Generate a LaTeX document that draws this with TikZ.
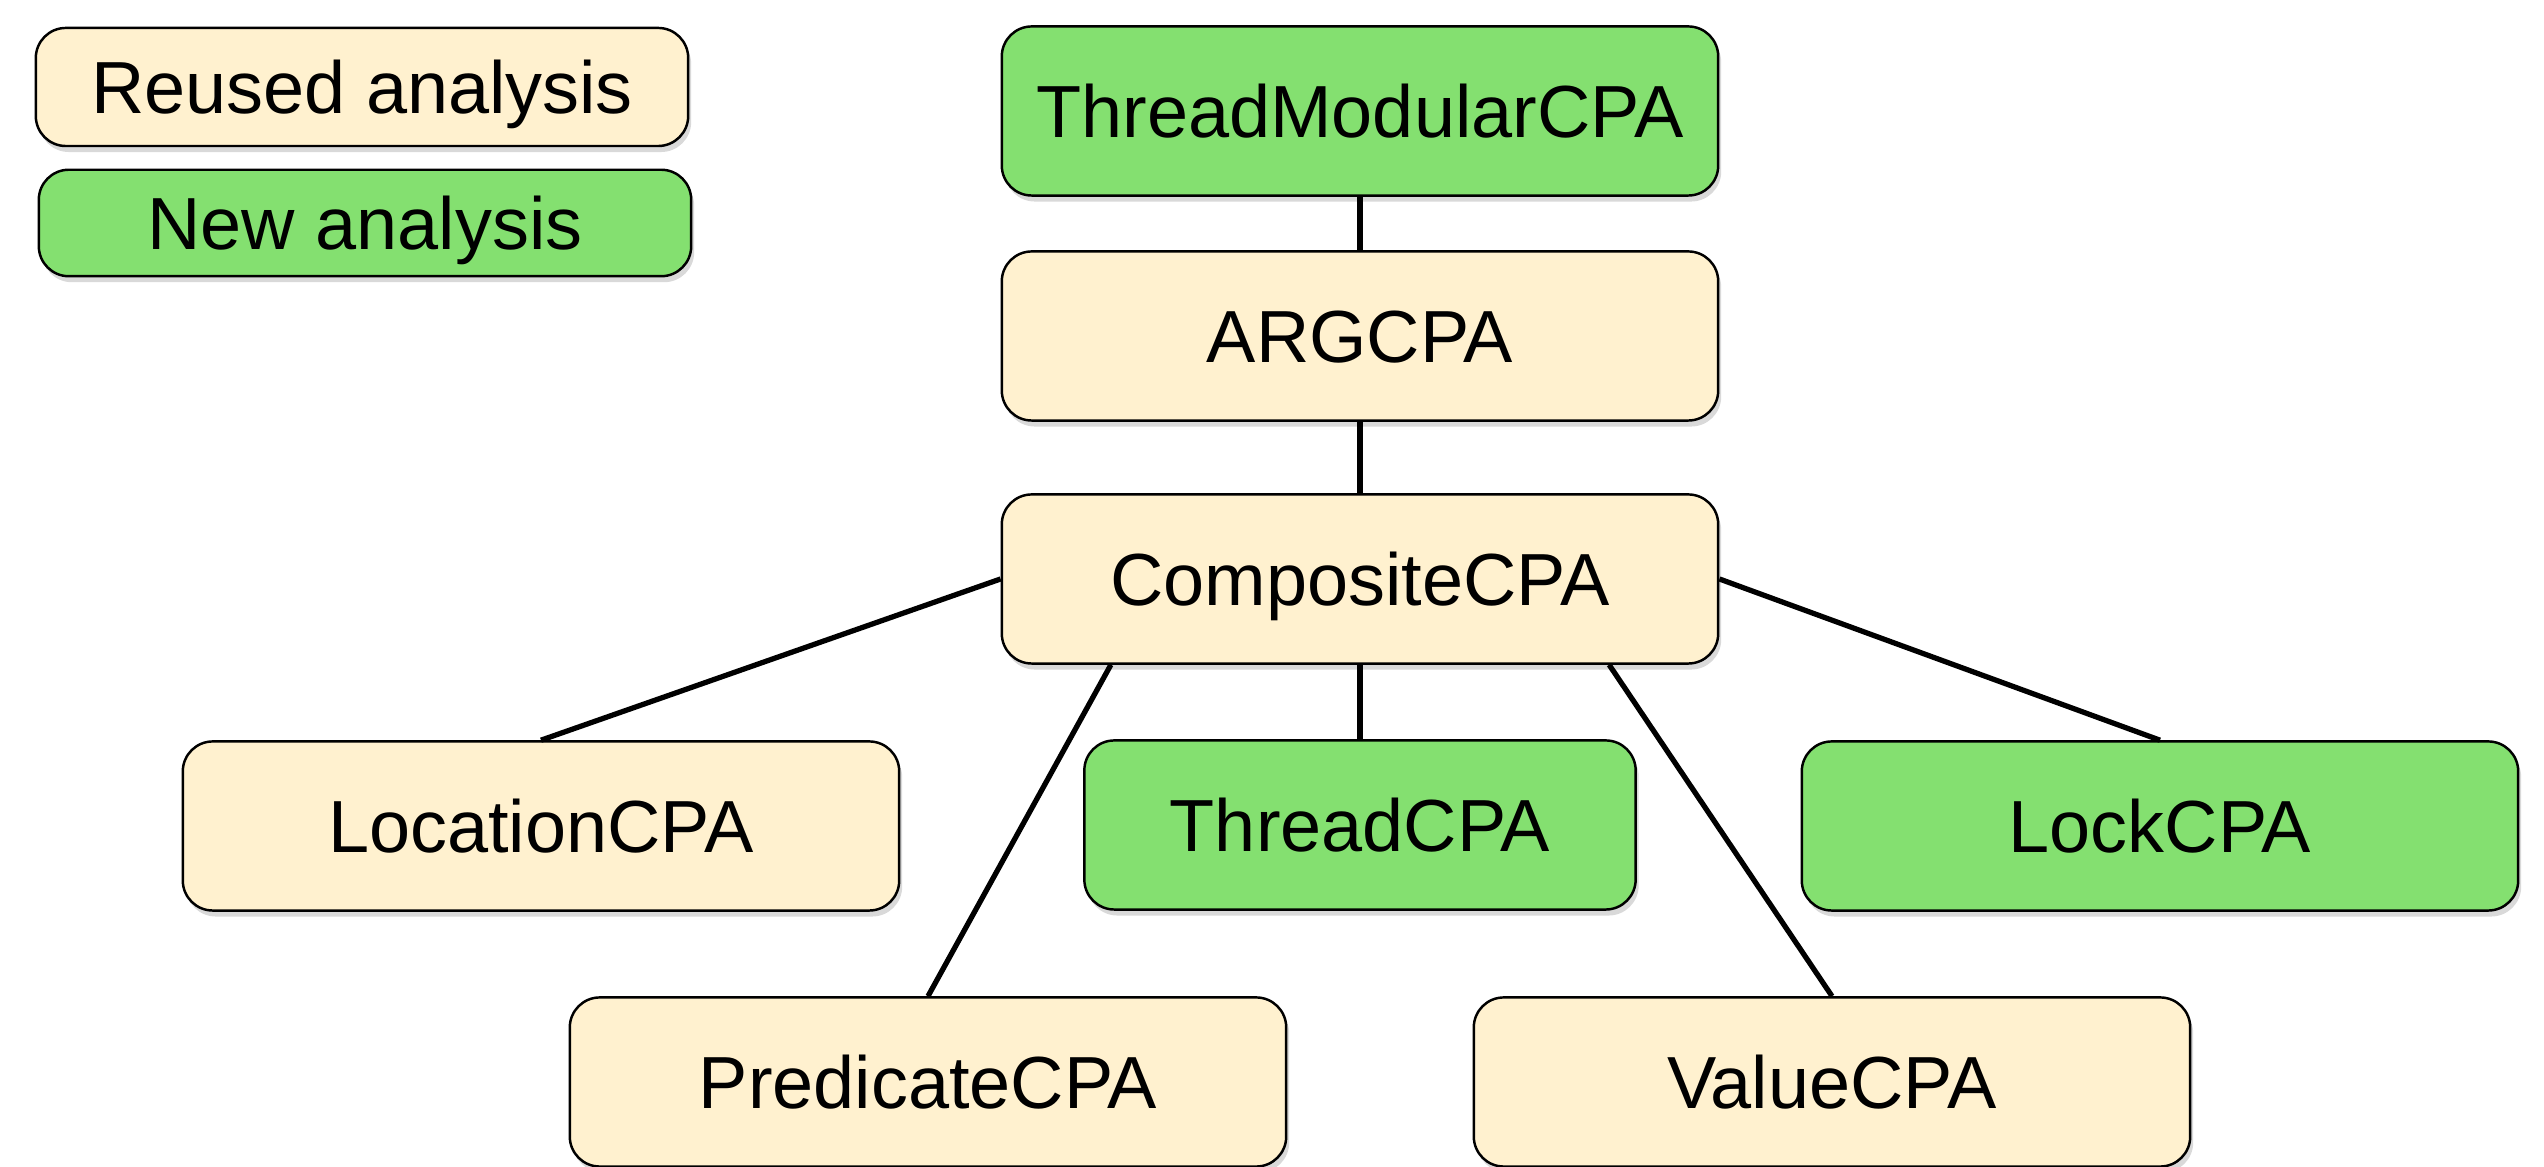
\documentclass[tikz,border=0pt]{standalone}
\usepackage{fontspec}
\setmainfont{Liberation Sans}
\usetikzlibrary{shadows}
\definecolor{reusedfill}{HTML}{FFF1CF}
\definecolor{newfill}{HTML}{84E070}

\begin{document}
\begin{tikzpicture}[x=0.01cm, y=0.01cm,
    box/.style={draw=black, line width=0.7pt, rounded corners=0.3cm,
        minimum width=7.16cm, minimum height=1.69cm,
        text height=0.68cm, text depth=0.15cm,
        font=\fontsize{21}{25}\selectfont,
        drop shadow={shadow xshift=0.03cm, shadow yshift=-0.06cm, opacity=0.3}},
    reusedbox/.style={box, fill=reusedfill},
    newbox/.style={box, fill=newfill},
    edge/.style={line width=1.5pt}]
    \useasboundingbox (0,0) rectangle (2544,1167);
    % legend
    \node[reusedbox, minimum width=6.52cm, minimum height=1.18cm] (reused) at (362,1080) {Reused analysis};
    \node[newbox, minimum width=6.52cm, minimum height=1.06cm] (newa) at (365,944) {New analysis};
    % analyses
    \node[newbox] (tmcpa) at (1360,1056) {ThreadModularCPA};
    \node[reusedbox] (arg) at (1360,831) {ARGCPA};
    \node[reusedbox] (comp) at (1360,588) {CompositeCPA};
    \node[reusedbox] (loc) at (541,341) {LocationCPA};
    \node[newbox, minimum width=5.51cm] (thr) at (1360,342) {ThreadCPA};
    \node[newbox] (lock) at (2160,341) {LockCPA};
    \node[reusedbox] (pred) at (928,85) {PredicateCPA};
    \node[reusedbox] (val) at (1832,85) {ValueCPA};
    % connections
    \draw[edge] (tmcpa) -- (arg);
    \draw[edge] (arg) -- (comp);
    \draw[edge] (comp.west) -- (loc.north);
    \draw[edge] (comp.199) -- (pred.north);
    \draw[edge] (comp) -- (thr);
    \draw[edge] (comp.-19) -- (val.north);
    \draw[edge] (comp.east) -- (lock.north);
\end{tikzpicture}
\end{document}
